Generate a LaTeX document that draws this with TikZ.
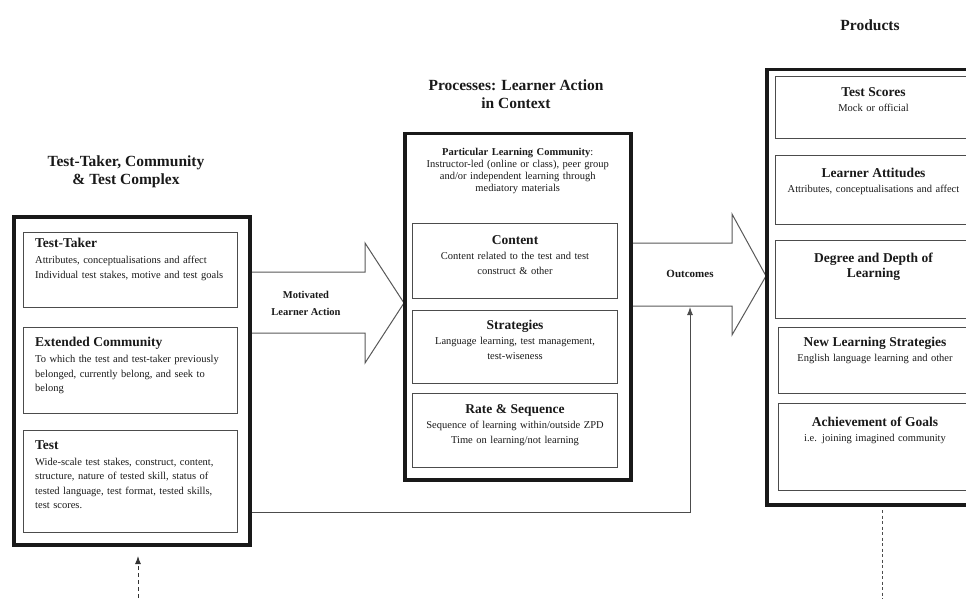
\documentclass[tikz,border=0pt]{standalone}
\usepackage{fontspec}
\setmainfont{Liberation Serif}
\usetikzlibrary{positioning,arrows.meta}

\tikzset{
  outerbox/.style={draw=black!90, line width=3.5pt, anchor=north west, inner sep=0pt},
  innerbox/.style={draw=black!70, line width=1pt, anchor=north west, inner sep=0pt},
  boxtitle/.style={font=\fontsize{15.5}{18.5}\selectfont\bfseries, align=center, text=black!90},
  lefttext/.style={align=left, text width=205pt, inner sep=0pt, font=\fontsize{10.5}{14.5}\selectfont, text=black!90},
  midtext/.style={align=center, text width=200pt, inner sep=0pt, font=\fontsize{10.5}{15}\selectfont, text=black!90},
  bigarrow/.style={draw=black!65, line width=1pt, fill=white},
  arrowtext/.style={font=\fontsize{10.5}{17}\selectfont\bfseries, align=center, text=black!90},
}
\newcommand{\itemhead}[1]{{\fontsize{13.5}{16}\selectfont\bfseries #1}}

\begin{document}
\begin{tikzpicture}[x=1pt,y=-1pt]
                \useasboundingbox (0,0) rectangle (966,599);
                \clip (0,0) rectangle (966,599);
                % block arrows
                \draw[bigarrow] (248,272) -- (365,272) -- (365,243) -- (404,303) -- (365,363) -- (365,333) -- (248,333);
                \node[arrowtext] (motivated) at (306,303) {Motivated\\Learner Action};
                \draw[bigarrow] (629,243) -- (732,243) -- (732,214) -- (766,276) -- (732,335) -- (732,306) -- (629,306);
                \node[arrowtext, font=\fontsize{11}{13}\selectfont\bfseries] (outcomes) at (690,274) {Outcomes};
                \coordinate (outbottom) at (690,307);
                % left column
                \node[boxtitle] (tcxtitle) at (126,172) {Test-Taker, Community\\\& Test Complex};
                \node[outerbox, minimum width=236pt, minimum height=328pt] (tcx) at (12,215) {};
                \node[innerbox, minimum width=214pt, minimum height=75pt] (taker) at (23,232) {};
                \node[lefttext, below right=6pt and 12pt of taker.north west] (takertext) {
                    \itemhead{Test-Taker}\\[1.5pt]
                    Attributes, conceptualisations and affect\\
                    Individual test stakes, motive and test goals
                };
                \node[innerbox, minimum width=214pt, minimum height=86pt] (community) at (23,327) {};
                \node[lefttext, below right=10pt and 12pt of community.north west] (communitytext) {
                    \itemhead{Extended Community}\\[1.5pt]
                    To which the test and test-taker previously\\
                    belonged, currently belong, and seek to\\
                    belong
                };
                \node[innerbox, minimum width=214pt, minimum height=102pt] (test) at (23,430) {};
                \node[lefttext, below right=10pt and 12pt of test.north west] (testtext) {
                    \itemhead{Test}\\[1.5pt]
                    Wide-scale test stakes, construct, content,\\
                    structure, nature of tested skill, status of\\
                    tested language, test format, tested skills,\\
                    test scores.
                };
                % middle column
                \node[boxtitle] (proctitle) at (516,94) {Processes: Learner Action\\in Context};
                \node[outerbox, minimum width=226pt, minimum height=346pt] (proc) at (403,132) {};
                \node[midtext, font=\fontsize{10.5}{12}\selectfont, below=16pt of proc.north] (particular) {
                    \textbf{Particular Learning Community}:\\
                    Instructor-led (online or class), peer group\\
                    and/or independent learning through\\
                    mediatory materials
                };
                \node[innerbox, minimum width=205pt, minimum height=75pt] (content) at (412,223) {};
                \node[midtext, below=12pt of content.north] (contenttext) {
                    \itemhead{Content}\\
                    Content related to the test and test\\
                    construct \& other
                };
                \node[innerbox, minimum width=205pt, minimum height=73pt] (strategies) at (412,310) {};
                \node[midtext, below=10pt of strategies.north] (strategiestext) {
                    \itemhead{Strategies}\\
                    Language learning, test management,\\
                    test-wiseness
                };
                \node[innerbox, minimum width=205pt, minimum height=74pt] (rate) at (412,393) {};
                \node[midtext, below=11pt of rate.north] (ratetext) {
                    \itemhead{Rate \& Sequence}\\
                    Sequence of learning within/outside ZPD\\
                    Time on learning/not learning
                };
                % right column
                \node[boxtitle] (prodtitle) at (870,25) {Products};
                \node[outerbox, minimum width=216pt, minimum height=435pt] (prod) at (765,68) {};
                \node[innerbox, minimum width=196pt, minimum height=62pt] (scores) at (775,76) {};
                \node[midtext, below=11pt of scores.north] (scorestext) {
                    \itemhead{Test Scores}\\
                    Mock or official
                };
                \node[innerbox, minimum width=196pt, minimum height=69pt] (attitudes) at (775,155) {};
                \node[midtext, below=13pt of attitudes.north] (attitudestext) {
                    \itemhead{Learner Attitudes}\\
                    Attributes, conceptualisations and affect
                };
                \node[innerbox, minimum width=196pt, minimum height=78pt] (depth) at (775,240) {};
                \node[midtext, below=13pt of depth.north] (depthtext) {
                    \itemhead{Degree and Depth of}\\
                    \itemhead{Learning}
                };
                \node[innerbox, minimum width=193pt, minimum height=66pt] (newstrat) at (778,327) {};
                \node[midtext, below=10pt of newstrat.north] (newstrattext) {
                    \itemhead{New Learning Strategies}\\
                    English language learning and other
                };
                \node[innerbox, minimum width=193pt, minimum height=87pt] (goals) at (778,403) {};
                \node[midtext, below=14pt of goals.north] (goalstext) {
                    \itemhead{Achievement of Goals}\\
                    i.e. joining imagined community
                };
                % feedback and outside links
                \coordinate (fbstart) at (tcx.east |- 0,512);
                \coordinate (fbcorner) at (690,512);
                \draw[black!70, line width=1pt, -{Latex[length=8pt,width=6pt]}] (fbstart) -- (fbcorner) -- (outbottom);
                \coordinate (below1) at (138,605);
                \coordinate (below1end) at (138,556);
                \draw[black!80, line width=1pt, dash pattern=on 4pt off 3pt, -{Latex[length=8pt,width=6pt]}] (below1) -- (below1end);
                \coordinate (below2) at (882,510);
                \coordinate (below2end) at (882,605);
                \draw[black!70, line width=0.8pt, dash pattern=on 3pt off 2.5pt] (below2) -- (below2end);
            \end{tikzpicture}
\end{document}
